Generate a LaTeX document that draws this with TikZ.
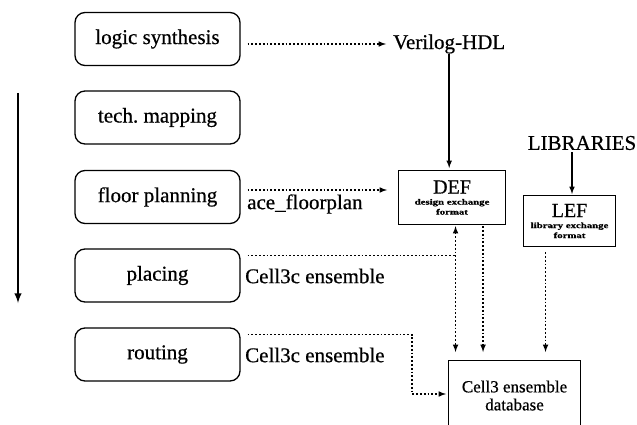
\documentclass[tikz,border=0pt]{standalone}
\usepackage{fontspec}
\setmainfont{Liberation Serif}
\newfontfamily\scanfont{Liberation Serif}[FakeBold=0.6]
\usepackage{tikz}
\usetikzlibrary{arrows}
\usetikzlibrary{calc}
\usetikzlibrary{positioning}

\newcommand{\tinytxt}[1]{\scalebox{1.35}[1]{\fontsize{8}{9}\selectfont\bfseries #1}}

\begin{document}
\begin{tikzpicture}[x=1pt, y=-1pt,
    stage/.style={draw, line width=1.3pt, rounded corners=10pt, minimum width=165pt,
      minimum height=53pt, inner sep=0pt, font=\scanfont\fontsize{21}{23}\selectfont},
    fmt/.style={draw, line width=1.1pt, inner sep=0pt, align=center, font=\scanfont},
    big/.style={font=\scanfont\fontsize{21}{23}\selectfont, inner sep=0pt},
    dots/.style={line width=1.5pt, dash pattern=on 1.8pt off 2pt},
    flow/.style={dots, -latex},
    feed/.style={line width=1.5pt, -latex}]
      \useasboundingbox (0,0) rectangle (637,425);
      \clip (0,0) rectangle (637,425);

      \node[stage] (logic) at (157.5,39) {logic synthesis};
      \node[stage] (tech) at (157.5,117.5) {tech.\ mapping};
      \node[stage] (floor) at (157.5,197) {floor planning};
      \node[stage] (place) at (157.5,275.5) {placing};
      \node[stage] (route) at (157.5,354.5) {routing};

      \coordinate (top) at (18,93);
      \coordinate (bot) at (18,303);
      \draw[line width=2.3pt, -latex] (top) -- (bot);

      \node[big, anchor=west] (verilog) at (393,44) {Verilog-HDL};
      \node[big] (libs) at (582,143) {LIBRARIES};

      \node[fmt, minimum width=107pt, minimum height=54pt, anchor=north west] (def) at (398,170)
        {{\fontsize{20}{20}\selectfont DEF}\\[-1pt]\tinytxt{design exchange}\\[-2pt]\tinytxt{format}};
      \node[fmt, minimum width=92pt, minimum height=51pt, anchor=north west] (lef) at (523,195)
        {{\fontsize{20}{20}\selectfont LEF}\\[-1pt]\tinytxt{library exchange}\\[-2pt]\tinytxt{format}};
      \node[fmt, minimum width=132pt, minimum height=70pt, anchor=north west,
        font=\scanfont\fontsize{17}{18}\selectfont] (db) at (448,360) {Cell3 ensemble\\database};

      \node[big, anchor=west] (ace) at (247,204) {ace\_floorplan};
      \node[big, anchor=west] (ensA) at (245,276) {Cell3c ensemble};
      \node[big, anchor=west] (ensB) at (245,355) {Cell3c ensemble};

      \draw[flow] ([xshift=7pt]logic.east |- verilog.west) -- ([xshift=-7pt]verilog.west);
      \draw[feed, shorten >=2pt] (verilog.south) -- (verilog.south |- def.north);
      \draw[feed, shorten <=2pt, shorten >=1pt] (libs.south -| 572,0) -- (lef.north -| 572,0);

      \coordinate (fa) at ([xshift=7pt, yshift=7pt]floor.east);
      \draw[flow] (fa) -- ([xshift=-11pt]def.west |- fa);

      \coordinate (dx) at ([xshift=3.5pt]def.south);
      \coordinate (dy) at ([xshift=31pt]def.south);
      \coordinate (lx) at ([xshift=-24pt]lef.south);
      \draw[flow, latex-latex, shorten <=1pt, shorten >=8pt] (dx) -- (dx |- db.north);
      \draw[flow, shorten <=1pt, shorten >=8pt] (dy) -- (dy |- db.north);
      \draw[flow, shorten <=5pt, shorten >=8pt] (lx) -- (lx |- db.north);

      \coordinate (pa) at ([xshift=7pt, yshift=20pt]place.east);
      \draw[dots] (pa) -- (pa -| dx);

      \coordinate (ra) at ([xshift=7pt, yshift=20pt]route.east);
      \coordinate (rb) at ([xshift=-36pt, yshift=-34pt]db.north west);
      \draw[flow] (ra) -| (rb) -- ([xshift=-2pt]db.west |- rb);

    \end{tikzpicture}
\end{document}
